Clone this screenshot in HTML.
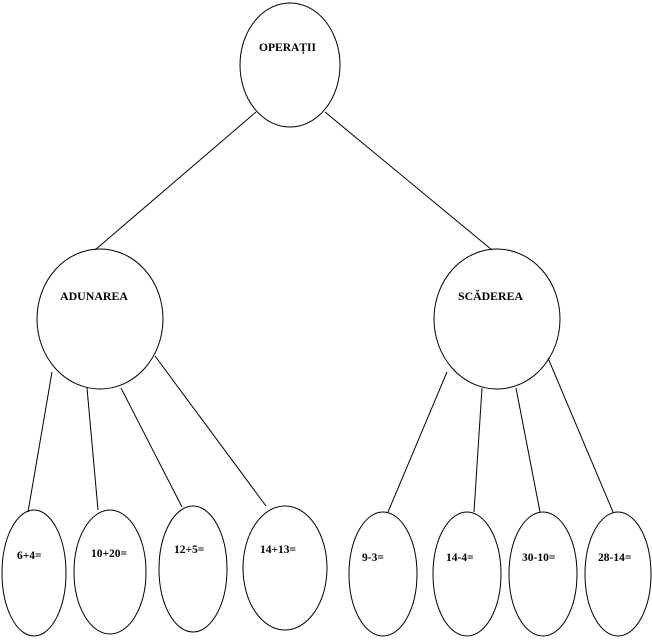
<!DOCTYPE html>
<html><head><meta charset="utf-8"><style>
html,body{margin:0;padding:0;background:#fff;width:652px;height:640px;overflow:hidden}
svg{display:block}
text{font-family:"Liberation Serif",serif;font-weight:bold;font-size:11.5px;fill:#000}
</style></head><body>
<svg width="652" height="640" viewBox="0 0 652 640" xmlns="http://www.w3.org/2000/svg">
<g fill="none" stroke="#000" stroke-width="1">
<ellipse cx="290" cy="65" rx="50" ry="62"/>
<ellipse cx="100" cy="319" rx="63" ry="70"/>
<ellipse cx="497" cy="319" rx="63" ry="70"/>
<line x1="256" y1="112" x2="95" y2="250"/>
<line x1="325" y1="112" x2="492" y2="250"/>
<line x1="52" y1="372" x2="28" y2="512"/>
<line x1="87" y1="388" x2="98" y2="510"/>
<line x1="121" y1="388" x2="182" y2="507"/>
<line x1="155" y1="356" x2="266" y2="506"/>
<line x1="447" y1="372" x2="388" y2="512"/>
<line x1="482" y1="388" x2="474" y2="512"/>
<line x1="516" y1="388" x2="540" y2="512"/>
<line x1="548" y1="358" x2="613" y2="512"/>
<ellipse cx="34" cy="573" rx="32" ry="63"/>
<ellipse cx="110" cy="572" rx="36" ry="62"/>
<ellipse cx="193" cy="569" rx="34" ry="63"/>
<ellipse cx="285" cy="568" rx="42" ry="62"/>
<ellipse cx="383" cy="574" rx="34" ry="62"/>
<ellipse cx="467" cy="574" rx="34" ry="62"/>
<ellipse cx="543" cy="574" rx="34" ry="62"/>
<ellipse cx="618" cy="574" rx="33" ry="62"/>
</g>
<text x="259" y="51" textLength="57" lengthAdjust="spacingAndGlyphs">OPERAȚII</text>
<text x="60" y="300" textLength="68" lengthAdjust="spacingAndGlyphs">ADUNAREA</text>
<text x="458" y="300" textLength="65" lengthAdjust="spacingAndGlyphs">SCĂDEREA</text>
<text x="17" y="559">6+4=</text>
<text x="91" y="557">10+20=</text>
<text x="174" y="553">12+5=</text>
<text x="260" y="553">14+13=</text>
<text x="362" y="561">9-3=</text>
<text x="446" y="561">14-4=</text>
<text x="522" y="561">30-10=</text>
<text x="598" y="561">28-14=</text>
</svg>
</body></html>
